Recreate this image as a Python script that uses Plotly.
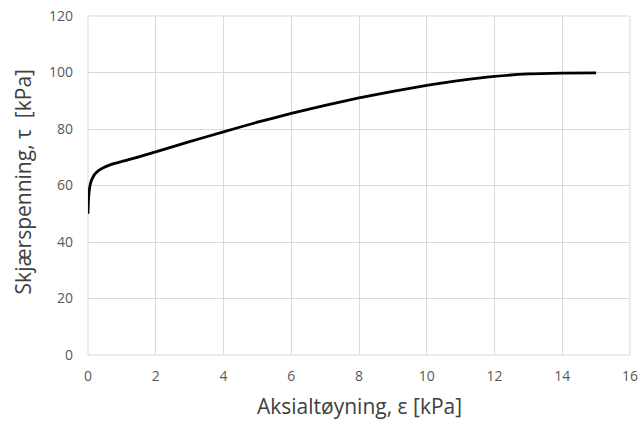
import plotly.graph_objects as go

# Axial strain (x) and shear stress (y) readings
strain = [0, 0.01, 0.03, 0.06, 0.1, 0.15, 0.2, 0.3, 0.45, 0.65, 1.0, 1.5, 2.0,
          3.0, 4.0, 5.0, 6.0, 7.0, 8.0, 9.0, 10.0, 11.0, 12.0, 13.0, 14.0, 15.0]
stress = [50, 54, 57.5, 60, 61.8, 63, 64, 65.2, 66.3, 67.3, 68.5, 70.1, 71.9,
          75.5, 79.0, 82.4, 85.5, 88.4, 91.0, 93.3, 95.4, 97.2, 98.6, 99.5, 99.8, 99.9]

x_ticks = [0, 2, 4, 6, 8, 10, 12, 14, 16]
y_ticks = [0, 20, 40, 60, 80, 100, 120]

x_title = "Aksialtøyning, ε [kPa]"
y_title = "Skjærspenning, τ  [kPa]"

fig = go.Figure()
fig.add_trace(go.Scatter(
    x=strain, y=stress, mode="lines",
    line=dict(color="black", width=2.8, shape="spline", smoothing=0.6),
    showlegend=False,
))

tick_font = dict(family="Open Sans, Liberation Sans, sans-serif", size=14, color="#595959")
title_font = dict(family="Open Sans, Liberation Sans, sans-serif", size=21, color="#404040")

fig.update_xaxes(
    range=[0, 16], tickvals=x_ticks, ticktext=[str(v) for v in x_ticks],
    showgrid=True, gridcolor="#d9d9d9", gridwidth=1,
    zeroline=False, showline=False, ticks="", automargin=False,
    tickfont=tick_font, ticklabelstandoff=11,
)
fig.update_yaxes(
    range=[0, 120], tickvals=y_ticks, ticktext=[str(v) for v in y_ticks],
    showgrid=True, gridcolor="#d9d9d9", gridwidth=1,
    zeroline=False, showline=False, ticks="", automargin=False,
    tickfont=tick_font, ticklabelstandoff=14,
)

# Axis titles
fig.add_annotation(text=x_title, xref="paper", yref="paper", x=0.5, y=-0.150,
                   xanchor="center", yanchor="middle", showarrow=False, font=title_font)
fig.add_annotation(text=y_title, xref="paper", yref="paper", x=-0.120, y=0.512,
                   xanchor="center", yanchor="middle", textangle=-90,
                   showarrow=False, font=title_font)

# Light frame around the plotting area
for x0, x1, y0, y1 in [(0, 1, 1, 1), (1, 1, 0, 1), (0, 1, 0, 0), (0, 0, 0, 1)]:
    fig.add_shape(type="line", xref="paper", yref="paper", x0=x0, x1=x1, y0=y0, y1=y1,
                  line=dict(color="#d9d9d9", width=1), layer="below")

fig.update_layout(
    width=640, height=421,
    margin=dict(l=88, r=10, t=16, b=66),
    paper_bgcolor="white", plot_bgcolor="white",
)

fig.write_html("out.html")
